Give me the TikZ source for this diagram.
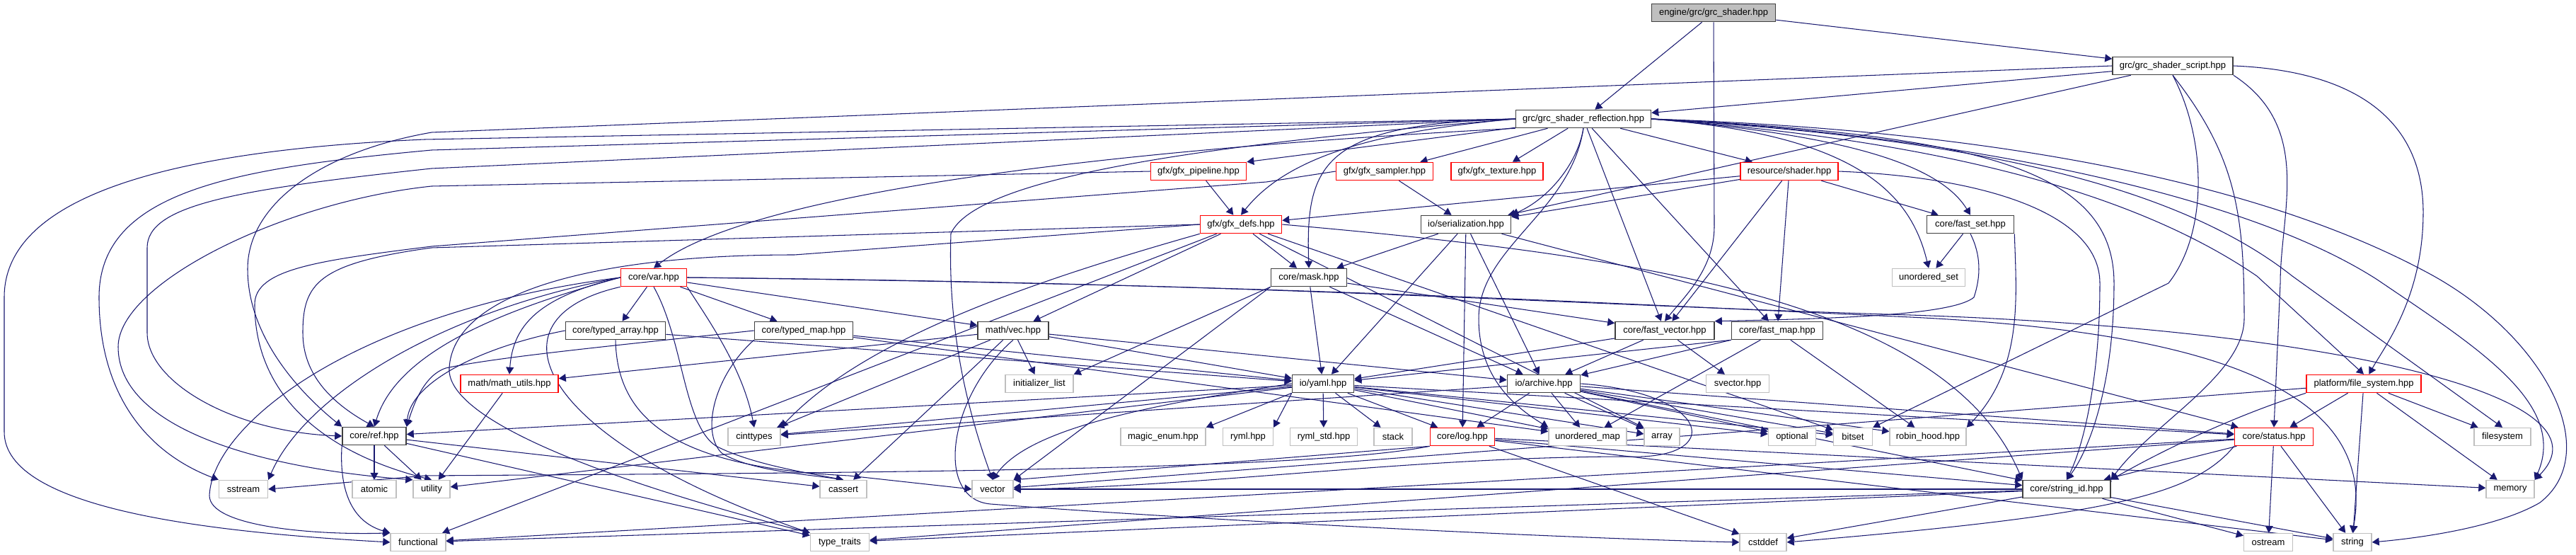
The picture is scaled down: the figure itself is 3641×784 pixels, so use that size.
\documentclass[tikz,border=0pt]{standalone}
\usepackage{fontspec}
\setmainfont{Liberation Sans}
\usetikzlibrary{arrows.meta,backgrounds}
\definecolor{edgeblue}{HTML}{191970}
\definecolor{framegray}{HTML}{404040}
\definecolor{sysgray}{HTML}{BFBFBF}
\tikzset{
  file/.style={draw=framegray, fill=white, line width=0.9pt, minimum height=0.5cm, inner xsep=1pt, inner ysep=0pt, font=\fontsize{7.4}{8}\selectfont},
  truncfile/.style={file, draw=red},
  sysfile/.style={file, draw=sysgray, line width=0.8pt},
  rootfile/.style={file, fill=sysgray},
  bw/.style={minimum width=#1*0.02cm},
  inc/.style={draw=edgeblue, line width=0.6pt, -{Triangle[length=2mm,width=2.2mm]}}
}

\begin{document}
\begin{tikzpicture}[x=0.02cm, y=-0.02cm]
  \useasboundingbox (0,0) rectangle (3641,784);
  % files
  \node[rootfile, bw=175] (root) at (2422,18) {engine/grc/grc\_shader.hpp};
  \node[file, bw=170] (script) at (3071,93) {grc/grc\_shader\_script.hpp};
  \node[file, bw=191] (refl) at (2238,168) {grc/grc\_shader\_reflection.hpp};
  \node[truncfile, bw=135] (pipe) at (1694,242) {gfx/gfx\_pipeline.hpp};
  \node[truncfile, bw=137] (sampler) at (1957,242) {gfx/gfx\_sampler.hpp};
  \node[truncfile, bw=130] (texture) at (2116,242) {gfx/gfx\_texture.hpp};
  \node[truncfile, bw=138] (shader) at (2529,242) {resource/shader.hpp};
  \node[truncfile, bw=115] (defs) at (1754,317) {gfx/gfx\_defs.hpp};
  \node[file, bw=127] (ser) at (2072,317) {io/serialization.hpp};
  \node[file, bw=123] (fset) at (2785,317) {core/fast\_set.hpp};
  \node[truncfile, bw=93] (var) at (924,392) {core/var.hpp};
  \node[file, bw=107] (mask) at (1850,392) {core/mask.hpp};
  \node[sysfile, bw=103] (uset) at (2726,392) {unordered\_set};
  \node[file, bw=141] (tarr) at (870,467) {core/typed\_array.hpp};
  \node[file, bw=139] (tmap) at (1136,467) {core/typed\_map.hpp};
  \node[file, bw=100] (vec) at (1432,467) {math/vec.hpp};
  \node[file, bw=140] (fvec) at (2353,467) {core/fast\_vector.hpp};
  \node[file, bw=129] (fmap) at (2512,467) {core/fast\_map.hpp};
  \node[truncfile, bw=138] (mutil) at (720,542) {math/math\_utils.hpp};
  \node[sysfile, bw=96] (ilist) at (1469,542) {initializer\_list};
  \node[file, bw=87] (yaml) at (1870,542) {io/yaml.hpp};
  \node[file, bw=103] (archive) at (2182,542) {io/archive.hpp};
  \node[sysfile, bw=89] (svec) at (2456,542) {svector.hpp};
  \node[truncfile, bw=162] (fs) at (3341,542) {platform/file\_system.hpp};
  \node[file, bw=90] (ref) at (529,616) {core/ref.hpp};
  \node[sysfile, bw=74] (cint) at (1066,617) {cinttypes};
  \node[sysfile, bw=120] (menum) at (1644,617) {magic\_enum.hpp};
  \node[sysfile, bw=71] (ryml) at (1764,617) {ryml.hpp};
  \node[sysfile, bw=95] (rymlstd) at (1871,617) {ryml\_std.hpp};
  \node[sysfile, bw=54] (stack) at (1969,617) {stack};
  \node[truncfile, bw=91] (log) at (2067,617) {core/log.hpp};
  \node[sysfile, bw=110] (umap) at (2244,617) {unordered\_map};
  \node[sysfile, bw=50] (array) at (2349,617) {array};
  \node[sysfile, bw=67] (optional) at (2533,617) {optional};
  \node[sysfile, bw=55] (bitset) at (2619,617) {bitset};
  \node[sysfile, bw=108] (robin) at (2725,617) {robin\_hood.hpp};
  \node[truncfile, bw=111] (status) at (3214,617) {core/status.hpp};
  \node[sysfile, bw=80] (filesystem) at (3537,617) {filesystem};
  \node[sysfile, bw=69] (sstream) at (344,691) {sstream};
  \node[sysfile, bw=62] (atomic) at (529,691) {atomic};
  \node[sysfile, bw=52] (utility) at (610,691) {utility};
  \node[sysfile, bw=66] (cassert) at (1192,691) {cassert};
  \node[sysfile, bw=58] (vector) at (1403,691) {vector};
  \node[file, bw=124] (strid) at (2921,691) {core/string\_id.hpp};
  \node[sysfile, bw=68] (memory) at (3548,691) {memory};
  \node[sysfile, bw=78] (functional) at (591,766) {functional};
  \node[sysfile, bw=83] (typetraits) at (1187,766) {type\_traits};
  \node[sysfile, bw=66] (cstddef) at (2492,766) {cstddef};
  \node[sysfile, bw=69] (ostream) at (3206,766) {ostream};
  \node[sysfile, bw=54] (string) at (3325,766) {string};

  % includes
  \begin{scope}[on background layer, every edge/.style={inc}]
    \path (root) edge (refl) edge (script);
    \draw[inc] (root.south) -- (2423,320) .. controls (2423,380) and (2380,420) .. (fvec.north);

    \path (script) edge (refl) edge (ser);
    \draw[inc] (script.west) -- (610,187) .. controls (450,215) and (350,290) .. (350,380) .. controls (350,480) and (430,560) .. (ref.north west);
    \draw[inc] (script.south) .. controls (3120,200) and (3120,330) .. (3065,400) -- (bitset.north east);
    \draw[inc] (script.south) .. controls (3160,220) and (3172,300) .. (3172,450) .. controls (3172,530) and (3040,600) .. (strid.north east);
    \draw[inc] (script.south east) .. controls (3270,180) and (3223,300) .. (3223,400) -- (status.north);
    \draw[inc] (script.east) .. controls (3330,100) and (3425,170) .. (3425,300) .. controls (3425,420) and (3370,490) .. (fs);

    \path (refl) edge (pipe.north east) edge (sampler) edge (texture) edge (shader) edge (fvec) edge (fmap);
    \draw[inc] (refl.south) .. controls (2230,230) and (2190,280) .. (ser.north east);
    \draw[inc] (refl.west) .. controls (1950,185) and (1820,220) .. (defs.north);
    \draw[inc] (refl.west) .. controls (1870,175) and (1845,230) .. (mask.north);
    \draw[inc] (refl.south west) .. controls (1500,215) and (1050,280) .. (var.north);
    \draw[inc] (refl.west) .. controls (1700,205) and (1380,250) .. (1344,330) .. controls (1340,450) and (1360,560) .. (vector.north);
    \draw[inc] (refl.south) .. controls (2220,300) and (2090,350) .. (2090,450) .. controls (2090,540) and (2150,580) .. (umap.north west);
    \draw[inc] (refl.east) .. controls (2600,190) and (2740,230) .. (fset.north);
    \draw[inc] (refl.east) .. controls (2620,190) and (2700,270) .. (uset.north);
    \draw[inc] (refl.east) .. controls (2800,190) and (2988,240) .. (2988,400) .. controls (2988,550) and (2950,640) .. (strid.north);
    \draw[inc] (refl.east) .. controls (2700,195) and (3000,260) .. (3190,390) -- (fs.north);
    \draw[inc] (refl.east) .. controls (2700,190) and (3050,240) .. (3240,390) -- (filesystem.north);
    \draw[inc] (refl.east) .. controls (2700,185) and (3150,260) .. (3360,395) .. controls (3500,490) and (3630,570) .. (memory.north east);
    \draw[inc] (refl.east) .. controls (2700,180) and (3150,230) .. (3440,390) .. controls (3600,480) and (3680,640) .. (3590,710) .. controls (3530,745) and (3420,760) .. (string.east);
    \draw[inc] (refl.west) -- (600,197) .. controls (300,210) and (6,260) .. (6,420) -- (6,610) .. controls (6,720) and (300,752) .. (functional.west);
    \draw[inc] (refl.west) -- (610,212) .. controls (330,238) and (140,270) .. (140,420) .. controls (140,560) and (210,640) .. (sstream.north west);
    \draw[inc] (refl.west) -- (610,238) .. controls (330,268) and (208,290) .. (208,350) -- (208,470) .. controls (208,540) and (330,610) .. (ref.west);

    \path (pipe) edge (defs);
    \draw[inc] (pipe.west) -- (610,263) .. controls (400,285) and (167,400) .. (167,490) .. controls (167,600) and (350,660) .. (utility.north west);

    \path (sampler) edge (ser);
    \draw[inc] (sampler.west) -- (1790,257) -- (610,348) .. controls (450,368) and (360,380) .. (360,430) .. controls (360,560) and (460,640) .. (utility.north);

    \path (shader) edge (defs) edge (ser) edge (fset) edge (fmap) edge (fvec);
    \draw[inc] (shader.east) .. controls (2800,250) and (2968,300) .. (2968,400) .. controls (2968,550) and (2940,640) .. (strid.north);

    \path (defs) edge (mask) edge (vec) edge (functional) edge (array) edge (bitset);
    \draw[inc] (defs.west) -- (610,350) .. controls (450,372) and (428,400) .. (428,470) .. controls (428,530) and (470,570) .. (ref.north);
    \draw[inc] (defs.west) -- (1123,360) .. controls (820,360) and (640,420) .. (635,520) .. controls (630,600) and (900,690) .. (typetraits.north west);
    \draw[inc] (defs.south west) .. controls (1450,400) and (1220,480) .. (cint.north east);
    \draw[inc] (defs.east) .. controls (2300,360) and (2750,420) .. (strid.north west);

    \path (ser) edge (mask) edge (yaml) edge (archive) edge (log) edge (status);

    \path (fset) edge (uset);
    \draw[inc] (fset.south) .. controls (2800,360) and (2800,390) .. (2790,420) .. controls (2760,445) and (2600,450) .. (fvec.north east);
    \draw[inc] (fset.south east) .. controls (2850,420) and (2860,520) .. (robin.north east);

    \path (var) edge (tarr) edge (tmap) edge (vec);
    \draw[inc] (var.west) .. controls (760,420) and (725,460) .. (mutil.north);
    \draw[inc] (var.west) .. controls (700,440) and (560,500) .. (ref.north);
    \draw[inc] (var.west) .. controls (620,440) and (430,560) .. (sstream.north east);
    \draw[inc] (var.west) .. controls (500,440) and (300,600) .. (296,700) .. controls (296,745) and (450,756) .. (functional.north west);
    \draw[inc] (var.south west) .. controls (680,450) and (760,620) .. (typetraits.north west);
    \draw[inc] (var.south east) .. controls (1000,450) and (1050,520) .. (cint.north);
    \draw[inc] (var.south) .. controls (966,480) and (966,600) .. (1012,630) .. controls (1060,655) and (1140,668) .. (cassert.north);
    \draw[inc] (var.east) .. controls (1800,400) and (2200,430) .. (2700,445) .. controls (3300,465) and (3700,560) .. (memory.north east);
    \draw[inc] (var.east) .. controls (1800,402) and (2200,425) .. (2700,448) .. controls (3150,470) and (3360,560) .. (string.north);

    \path (mask) edge (yaml) edge (archive) edge (fvec);
    \path (mask.south west) edge (ilist.north east) edge (vector.north east);

    \path (tarr) edge (yaml);
    \draw[inc] (tarr.west) .. controls (680,490) and (580,540) .. (ref.north east);
    \draw[inc] (tarr.south) .. controls (872,590) and (950,660) .. (1200,672) -- (vector.west);

    \path (tmap) edge (yaml) edge (umap);
    \draw[inc] (tmap.west) .. controls (850,490) and (700,505) .. (630,520) .. controls (600,530) and (585,570) .. (ref.north east);
    \draw[inc] (tmap.south west) .. controls (1010,530) and (990,610) .. (1020,640) .. controls (1060,665) and (1140,670) .. (cassert.north);

    \path (vec) edge (mutil) edge (ilist) edge (cassert) edge (yaml) edge (archive) edge (cint);
    \draw[inc] (vec.south) .. controls (1340,560) and (1320,705) .. (1400,712) .. controls (1700,735) and (2200,760) .. (cstddef.west);

    \path (fvec) edge (yaml) edge (archive) edge (svec);
    \path (fmap.south west) edge (yaml) edge (archive);
    \path (fmap) edge (umap) edge (robin);

    \path (mutil) edge (utility);

    \path (yaml) edge (rymlstd) edge (stack) edge (log) edge (umap) edge (array) edge (optional) edge (bitset) edge (cint) edge (ref) edge (utility) edge (status);
    \path (yaml.south west) edge (menum.north east) edge (ryml.north east);
    \draw[inc] (yaml.west) .. controls (1600,575) and (1450,610) .. (vector.north);

    \path (archive) edge (log) edge (umap) edge (array) edge (optional) edge (bitset) edge (robin) edge (cint) edge (status) edge (strid);
    \draw[inc] (archive.east) .. controls (2420,555) and (2440,650) .. (2300,645) .. controls (2000,645) and (1700,688) .. (vector.east);

    \path (fs) edge (status) edge (string) edge (memory) edge (filesystem) edge (vector);
    \draw[inc] (fs.south west) .. controls (3150,590) and (3050,640) .. (strid.north east);

    \path (ref) edge (atomic) edge (utility) edge (cassert) edge (typetraits);
    \draw[inc] (ref.south west) .. controls (480,680) and (490,735) .. (functional.north west);

    \path (log) edge (strid) edge (memory) edge (cstddef) edge (string);
    \path (log.south west) edge (vector.north east);
    \draw[inc] (log.south west) .. controls (1850,665) and (1200,668) .. (600,672) -- (sstream.east);

    \path (status) edge (strid) edge (ostream) edge (string) edge (functional) edge (typetraits);
    \draw[inc] (status.south west) .. controls (3100,700) and (2980,728) .. (cstddef.east);

    \path (strid) edge (ostream) edge (string) edge (cstddef) edge (functional) edge (typetraits) edge (vector);
  \end{scope}
\end{tikzpicture}
\end{document}
